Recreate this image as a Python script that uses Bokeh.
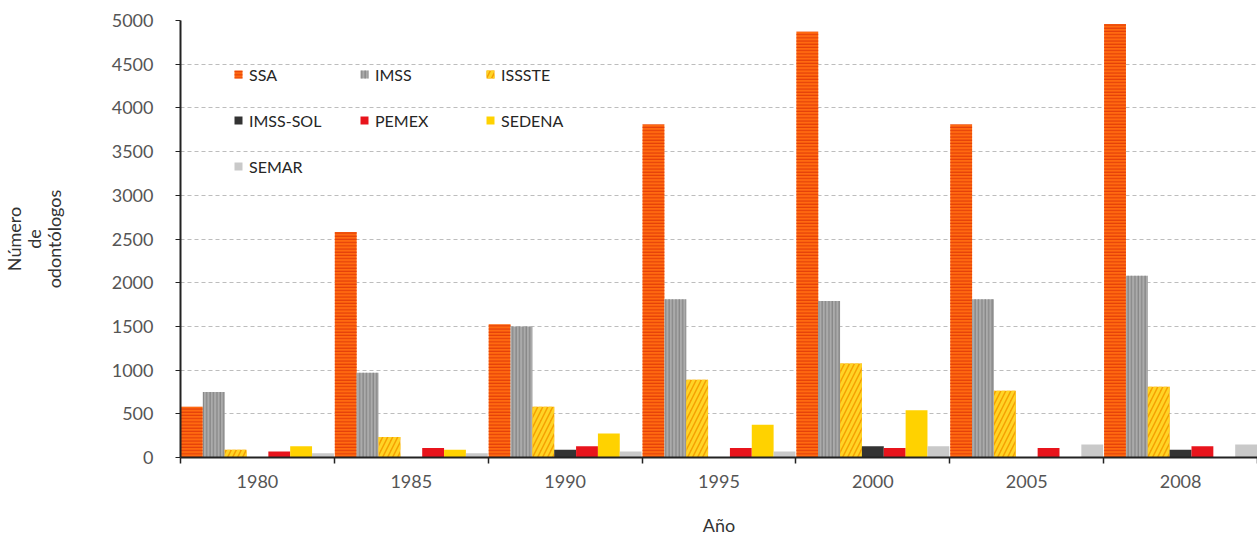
from bokeh.plotting import figure
from bokeh.models import (ColumnDataSource, Legend, LegendItem, FixedTicker, Range1d, Grid)
from bokeh.transform import dodge
from bokeh.embed import file_html
from bokeh.resources import INLINE

# ---- data ----
years = ["1980", "1985", "1990", "1995", "2000", "2005", "2008"]
series = ["SSA", "IMSS", "ISSSTE", "IMSS-SOL", "PEMEX", "SEDENA", "SEMAR"]
ssa = [580, 2580, 1525, 3810, 4870, 3810, 4960]
imss = [750, 970, 1500, 1810, 1790, 1810, 2080]
issste = [90, 235, 580, 890, 1075, 765, 810]
imss_sol = [0, 0, 90, 0, 130, 0, 90]
pemex = [70, 110, 130, 110, 110, 110, 130]
sedena = [130, 90, 275, 375, 540, 0, 0]
semar = [50, 50, 70, 70, 130, 150, 150]
y_ticks = [0, 500, 1000, 1500, 2000, 2500, 3000, 3500, 4000, 4500, 5000]

values = [ssa, imss, issste, imss_sol, pemex, sedena, semar]

styles = [
    dict(fill_color="#FF6A10", hatch_pattern="horizontal_line", hatch_color="#E23A08", hatch_scale=3.2, hatch_weight=1.1),
    dict(fill_color="#ABABAB", hatch_pattern="vertical_line", hatch_color="#808080", hatch_scale=3.4, hatch_weight=1.1),
    dict(fill_color="#F5A000", hatch_pattern="right_diagonal_line", hatch_color="#FFD426", hatch_scale=10, hatch_weight=3),
    dict(fill_color="#333333"),
    dict(fill_color="#E8141C"),
    dict(fill_color="#FFD200"),
    dict(fill_color="#C9C9C9"),
]

FONT = "Lato"
n = len(years)
centers = [i + 0.5 for i in range(n)]
bounds = [i for i in range(n + 1)]
bar_w = 0.142

p = figure(width=1257, height=538, output_backend="svg", toolbar_location=None,
           x_range=Range1d(0, n), y_range=Range1d(0, 5000),
           min_border_left=177, min_border_right=0, min_border_top=20, min_border_bottom=81)
p.outline_line_color = None
p.background_fill_color = "white"

items = []
for k, (name, vals, st) in enumerate(zip(series, values, styles)):
    src = ColumnDataSource(dict(x=centers, top=vals))
    r = p.vbar(x=dodge("x", (k - 3) * bar_w, range=p.x_range), top="top", width=bar_w,
               source=src, line_color=None, **st)
    items.append(LegendItem(label=name, renderers=[r]))

legend = Legend(items=items, orientation="horizontal", ncols=3,
                location=(53, 281), padding=0, margin=0,
                border_line_color=None, background_fill_alpha=0,
                glyph_width=10, glyph_height=10, label_height=20, label_width=84,
                label_standoff=6, spacing=26,
                label_text_font=FONT, label_text_font_size="16px", label_text_color="#262626")
p.add_layout(legend, "center")

# grid
p.xgrid.visible = False
p.ygrid.ticker = FixedTicker(ticks=y_ticks)
p.ygrid.grid_line_color = "#BDBDBD"
p.ygrid.grid_line_dash = "4 3"
p.add_layout(Grid(dimension=1, ticker=FixedTicker(ticks=[y_ticks[-1]]),
                  grid_line_color="#9A9A9A", grid_line_width=1.5))

# y axis
p.yaxis.ticker = FixedTicker(ticks=y_ticks)
p.yaxis.axis_line_color = "#222222"
p.yaxis.axis_line_width = 2
p.yaxis.major_tick_out = 5
p.yaxis.major_tick_in = 0
p.yaxis.minor_tick_line_color = None
p.yaxis.major_tick_line_color = "#222222"
p.yaxis.major_label_standoff = 22
p.yaxis.major_label_text_font = FONT
p.yaxis.major_label_text_font_size = "18px"
p.yaxis.major_label_text_color = "#555555"
p.yaxis.axis_label = "Número\nde\nodontólogos"
p.yaxis.axis_label_text_font = FONT
p.yaxis.axis_label_text_font_size = "18px"
p.yaxis.axis_label_text_font_style = "normal"
p.yaxis.axis_label_text_color = "#333333"
p.yaxis.axis_label_text_align = "center"
p.yaxis.axis_label_text_line_height = 0.9
p.yaxis.axis_label_standoff = 44

# x axis
p.xaxis.ticker = FixedTicker(ticks=centers, minor_ticks=bounds)
p.xaxis.major_label_overrides = {c: y for c, y in zip(centers, years)}
p.xaxis.axis_line_color = "#222222"
p.xaxis.axis_line_width = 2
p.xaxis.major_tick_out = 0
p.xaxis.major_tick_in = 0
p.xaxis.minor_tick_out = 6
p.xaxis.minor_tick_in = 0
p.xaxis.minor_tick_line_color = "#222222"
p.xaxis.minor_tick_line_width = 1.5
p.xaxis.major_label_standoff = 11
p.xaxis.major_label_text_font = FONT
p.xaxis.major_label_text_font_size = "18px"
p.xaxis.major_label_text_color = "#555555"
p.xaxis.axis_label = "Año"
p.xaxis.axis_label_text_font = FONT
p.xaxis.axis_label_text_font_size = "18px"
p.xaxis.axis_label_text_font_style = "normal"
p.xaxis.axis_label_text_color = "#333333"
p.xaxis.axis_label_standoff = 23

open("out.html", "w").write(file_html(p, INLINE))
